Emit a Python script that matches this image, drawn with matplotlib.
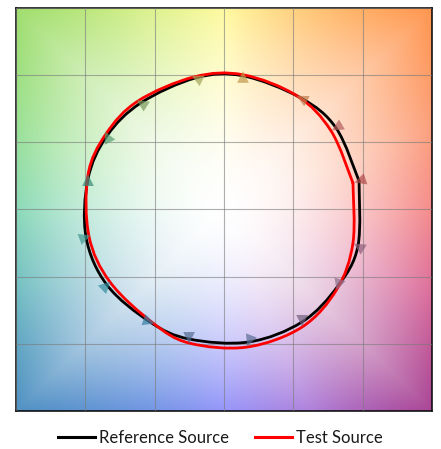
import numpy as np
import matplotlib
matplotlib.use("Agg")
import matplotlib.pyplot as plt
from matplotlib.path import Path
from matplotlib.patches import PathPatch
from matplotlib.lines import Line2D
from matplotlib.colors import to_rgb

# valores (16 bins de tono), ref y test normalizados
ref_x = [0.974, 0.808, 0.555, 0.137, -0.202, -0.599, -0.844, -0.981,
         -0.995, -0.844, -0.534, -0.252, 0.180, 0.563, 0.822, 0.966]
ref_y = [0.212, 0.607, 0.830, 0.995, 0.980, 0.794, 0.548, 0.227,
         -0.205, -0.562, -0.837, -0.964, -0.986, -0.837, -0.569, -0.272]
test_x = [0.930, 0.772, 0.526, 0.137, -0.216, -0.620, -0.851, -0.981,
          -0.974, -0.822, -0.512, -0.252, 0.166, 0.563, 0.815, 0.930]
test_y = [0.197, 0.585, 0.846, 1.003, 0.987, 0.808, 0.563, 0.257,
          -0.197, -0.540, -0.845, -0.994, -1.024, -0.875, -0.592, -0.249]

bin_colors = ["#E62828", "#E74B4B", "#FB812E", "#FFB529", "#CBCA46", "#7EB94C",
              "#41C06D", "#009C7C", "#16BCB0", "#00A4BF", "#0085C3", "#3B62AA",
              "#4568AE", "#6A4E85", "#9D69A1", "#A74F81"]

# colores del fondo en el borde, cada 22.5 grados desde la derecha
edge_angles = np.arange(0, 360, 22.5)
edge_colors = [(245, 140, 140), (252, 160, 125), (255, 150, 80), (255, 200, 120),
               (255, 250, 160), (215, 240, 140), (160, 222, 110), (155, 225, 150),
               (140, 218, 185), (115, 190, 195), (80, 145, 195), (110, 150, 225),
               (150, 150, 250), (175, 130, 220), (170, 70, 150), (220, 110, 155)]


def smooth_path(xs, ys):
    # linea suavizada tipo Excel (serie abierta cerrada repitiendo el primer punto)
    p = np.column_stack([xs + xs[:1], ys + ys[:1]])
    n = len(p)
    verts = [p[0]]
    codes = [Path.MOVETO]
    for i in range(n - 1):
        a = p[i - 1] if i > 0 else p[i]
        d = p[i + 2] if i + 2 < n else p[i + 1]
        c1 = p[i] + (p[i + 1] - a) / 6.0
        c2 = p[i + 1] - (d - p[i]) / 6.0
        verts += [c1, c2, p[i + 1]]
        codes += [Path.CURVE4] * 3
    return Path(verts, codes)


fig = plt.figure(figsize=(4.41, 4.49), dpi=100)
ax = fig.add_axes([16 / 441, 38 / 449, 416 / 441, 403 / 449])

# fondo de color
g = np.linspace(-1.5, 1.5, 300)
X, Y = np.meshgrid(g, g)
ang = np.degrees(np.arctan2(Y, X)) % 360
ec = np.array(edge_colors + edge_colors[:1], dtype=float) / 255.0
ea = np.append(edge_angles, 360)
edge = np.stack([np.interp(ang, ea, ec[:, k]) for k in range(3)], axis=-1)
t = np.clip(np.maximum(np.abs(X), np.abs(Y)) / 1.5, 0, 1)
f = (t ** 1.7)[..., None]
img = 1.0 - (1.0 - edge) * f
ax.imshow(img, extent=[-1.5, 1.5, -1.5, 1.5], origin="lower",
          interpolation="bilinear", aspect="auto", zorder=0)

ax.set_xlim(-1.5, 1.5)
ax.set_ylim(-1.5, 1.5)
ax.set_xticks(np.arange(-1.5, 1.6, 0.5))
ax.set_yticks(np.arange(-1.5, 1.6, 0.5))
ax.tick_params(length=0, labelbottom=False, labelleft=False)
ax.grid(True, color="#7a7a7a", lw=0.8, alpha=0.6)
ax.set_axisbelow(False)
for s in ax.spines.values():
    s.set_linewidth(1.1)
    s.set_color("black")

ax.add_patch(PathPatch(smooth_path(ref_x, ref_y), fill=False, ec="black",
                       lw=2.0, zorder=3, capstyle="round", joinstyle="round"))
ax.add_patch(PathPatch(smooth_path(test_x, test_y), fill=False, ec="#ff0000",
                       lw=2.0, zorder=4, capstyle="round", joinstyle="round"))

# flechas de cada bin (color del bin apagado con gris)
for i in range(16):
    dx = test_x[i] - ref_x[i]
    dy = test_y[i] - ref_y[i]
    n = np.hypot(dx, dy)
    if n < 1e-6:
        dx, dy, n = -ref_y[i], ref_x[i], 1.0
    dx, dy = dx / n * 0.035, dy / n * 0.035
    c = 0.55 * np.array(to_rgb(bin_colors[i])) + 0.45 * np.array([0.45, 0.45, 0.45])
    ax.annotate("", xy=(ref_x[i] + dx, ref_y[i] + dy),
                xytext=(ref_x[i] - dx, ref_y[i] - dy),
                arrowprops=dict(arrowstyle="-|>,head_length=0.7,head_width=0.35",
                                color=tuple(c), alpha=0.7, lw=0,
                                mutation_scale=12, shrinkA=0, shrinkB=0),
                zorder=5)

handles = [Line2D([], [], color="black", lw=2.2),
           Line2D([], [], color="#ff0000", lw=2.2)]
fig.legend(handles, ["Reference Source", "Test Source"], loc="center",
           bbox_to_anchor=(0.5, 11 / 449), ncol=2, frameon=False,
           prop={"family": "Lato", "size": 12}, handlelength=2.2,
           handletextpad=0.25, columnspacing=1.6, labelcolor="#1a1a1a")

fig.savefig("out.png", dpi=100)
